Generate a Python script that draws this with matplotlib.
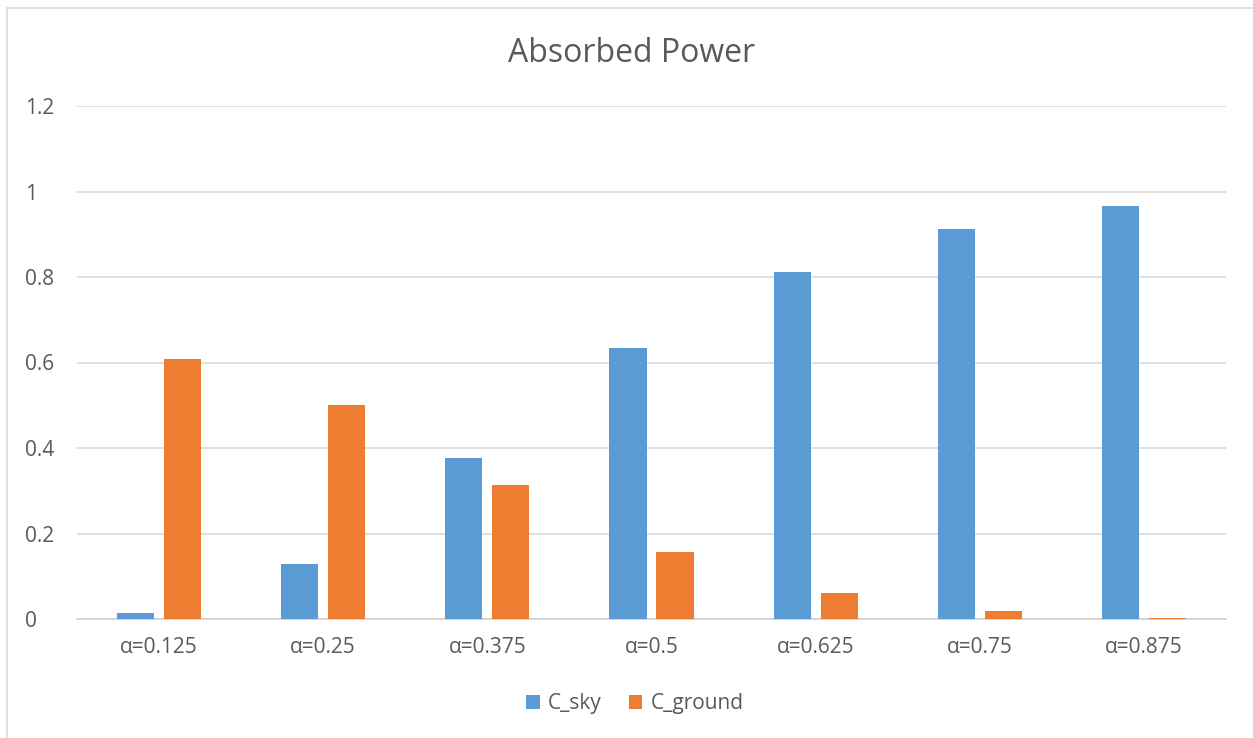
import numpy as np
import matplotlib.pyplot as plt
from matplotlib.patches import Rectangle

categories = ['α=0.125', 'α=0.25', 'α=0.375', 'α=0.5', 'α=0.625', 'α=0.75', 'α=0.875']
c_sky = [0.014, 0.129, 0.377, 0.634, 0.812, 0.913, 0.966]
c_ground = [0.608, 0.501, 0.314, 0.156, 0.061, 0.019, 0.003]
yticks = [0, 0.2, 0.4, 0.6, 0.8, 1, 1.2]
ytick_labels = ['0', '0.2', '0.4', '0.6', '0.8', '1', '1.2']

plt.rcParams['font.family'] = ['Open Sans', 'DejaVu Sans']
txt = '#595959'

fig = plt.figure(figsize=(12.53, 7.38), dpi=100)
# outer chart border
fig.patches.append(Rectangle((7/1253, -0.01), 1.02, 1 - 8/738 + 0.01, transform=fig.transFigure,
                             fill=False, edgecolor='#d9d9d9', linewidth=1.2))

ax = fig.add_axes([77/1253, 1 - 619/738, (1226 - 77)/1253, (619 - 106)/738])
x = np.arange(len(categories))
w = 0.226
ax.bar(x - 0.143, c_sky, w, color='#5b9bd5', label='C_sky', zorder=3)
ax.bar(x + 0.143, c_ground, w, color='#ed7d31', label='C_ground', zorder=3)

ax.set_xlim(-0.5, len(categories) - 0.5)
ax.set_ylim(0, 1.2)
ax.set_yticks(yticks)
ax.set_yticklabels(ytick_labels)
ax.set_xticks(x)
ax.set_xticklabels(categories)
ax.grid(axis='y', color='#d9d9d9', linewidth=1.2, zorder=0)
ax.tick_params(length=0, labelsize=15, colors=txt)
ax.tick_params(axis='y', pad=22)
ax.tick_params(axis='x', pad=13)
for lbl in ax.get_yticklabels():
    lbl.set_horizontalalignment('left')
    lbl.set_x(-(77 - 25) / (1226 - 77) - 0.0)
ax.yaxis.set_tick_params(pad=0)
for s in ['top', 'right', 'left']:
    ax.spines[s].set_visible(False)
ax.spines['bottom'].set_color('#d0d0d0')
ax.spines['bottom'].set_linewidth(1.2)

fig.text(0.504, 1 - 53/738, 'Absorbed Power', ha='center', va='center', fontsize=23, color=txt)
fig.legend(loc='center', bbox_to_anchor=(635/1253, 1 - 704/738), ncol=2, frameon=False,
           fontsize=15, labelcolor=txt, handlelength=0.65, handleheight=0.65,
           handletextpad=0.4, columnspacing=1.3)

plt.savefig('out.png', dpi=100)
